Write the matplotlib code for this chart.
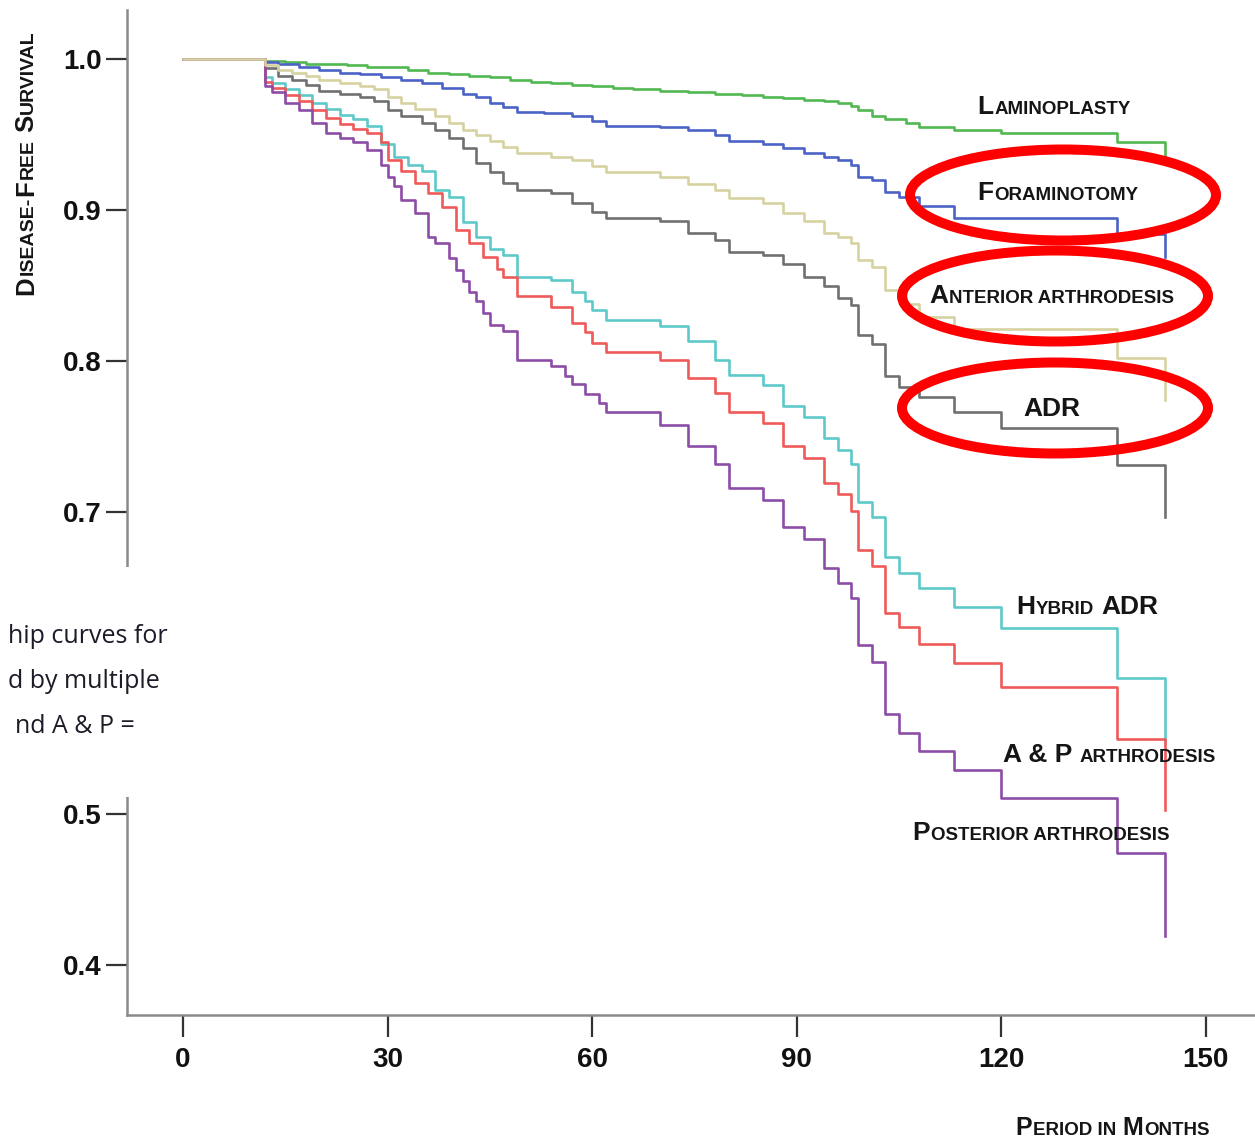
import matplotlib.pyplot as plt
from matplotlib.patches import Ellipse, Rectangle

# disease-free survival (months, survival), step after each event
lam_t = [0, 12, 15, 18, 21, 24, 27, 30, 33, 36, 39, 42, 45, 48, 51, 54, 57, 60, 63, 66,
         70, 74, 78, 82, 85, 88, 91, 94, 96, 98, 99, 101, 103, 106, 108, 113, 120, 137, 144]
lam_s = [1.0, 0.999, 0.998, 0.997, 0.997, 0.996, 0.995, 0.995, 0.993, 0.991, 0.990, 0.989,
         0.988, 0.986, 0.985, 0.984, 0.983, 0.982, 0.981, 0.980, 0.979, 0.978, 0.977, 0.976,
         0.975, 0.974, 0.973, 0.972, 0.971, 0.969, 0.966, 0.962, 0.960, 0.958, 0.955, 0.953,
         0.951, 0.945, 0.936]

for_t = [0, 12, 14, 17, 20, 23, 26, 29, 32, 35, 38, 41, 43, 45, 47, 49, 53, 57, 60, 62,
         70, 74, 78, 80, 85, 88, 91, 94, 96, 98, 99, 101, 103, 105, 108, 113, 137, 144]
for_s = [1.0, 0.998, 0.997, 0.995, 0.993, 0.991, 0.990, 0.988, 0.986, 0.984, 0.981, 0.977,
         0.975, 0.971, 0.968, 0.965, 0.964, 0.962, 0.959, 0.956, 0.955, 0.953, 0.950, 0.946,
         0.944, 0.941, 0.938, 0.935, 0.933, 0.930, 0.922, 0.920, 0.912, 0.909, 0.903, 0.895,
         0.884, 0.869]

ant_t = [0, 12, 14, 16, 18, 20, 23, 26, 28, 30, 32, 34, 37, 39, 41, 43, 45, 47, 49, 54,
         57, 60, 62, 70, 74, 78, 80, 85, 88, 91, 94, 96, 98, 99, 101, 103, 106, 108, 113, 137, 144]
ant_s = [1.0, 0.996, 0.993, 0.991, 0.989, 0.986, 0.984, 0.982, 0.980, 0.975, 0.971, 0.967,
         0.962, 0.958, 0.953, 0.950, 0.946, 0.942, 0.938, 0.935, 0.933, 0.929, 0.925, 0.922,
         0.917, 0.913, 0.908, 0.905, 0.898, 0.893, 0.885, 0.882, 0.878, 0.867, 0.862, 0.847,
         0.838, 0.829, 0.821, 0.802, 0.774]

adr_t = [0, 12, 14, 16, 18, 20, 23, 26, 28, 30, 32, 35, 37, 39, 41, 43, 45, 47, 49, 54,
         57, 60, 62, 70, 74, 78, 80, 85, 88, 91, 94, 96, 98, 99, 101, 103, 105, 108, 113, 120,
         137, 144]
adr_s = [1.0, 0.994, 0.989, 0.986, 0.983, 0.979, 0.977, 0.975, 0.972, 0.966, 0.962, 0.958,
         0.953, 0.948, 0.941, 0.931, 0.925, 0.918, 0.913, 0.911, 0.905, 0.899, 0.895, 0.893,
         0.885, 0.880, 0.872, 0.870, 0.864, 0.856, 0.850, 0.842, 0.837, 0.817, 0.811, 0.790,
         0.783, 0.776, 0.766, 0.756, 0.731, 0.697]

hyb_t = [0, 12, 13, 15, 17, 19, 21, 23, 25, 27, 29, 31, 33, 35, 37, 39, 41, 43, 45, 47,
         49, 54, 57, 59, 60, 62, 70, 74, 78, 80, 85, 88, 91, 94, 96, 98, 99, 101, 103, 105,
         108, 113, 120, 137, 144]
hyb_s = [1.0, 0.988, 0.984, 0.980, 0.976, 0.971, 0.967, 0.963, 0.960, 0.956, 0.944, 0.935,
         0.930, 0.926, 0.913, 0.909, 0.892, 0.882, 0.874, 0.870, 0.856, 0.854, 0.846, 0.840,
         0.834, 0.827, 0.823, 0.813, 0.801, 0.791, 0.784, 0.770, 0.763, 0.749, 0.741, 0.732,
         0.707, 0.697, 0.670, 0.660, 0.650, 0.637, 0.623, 0.590, 0.549]

ap_t = [0, 12, 13, 15, 17, 19, 21, 23, 25, 27, 29, 30, 32, 34, 36, 38, 40, 42, 44, 46,
        47, 49, 54, 57, 59, 60, 62, 70, 74, 78, 80, 85, 88, 91, 94, 96, 98, 99, 101, 103,
        105, 108, 113, 120, 137, 144]
ap_s = [1.0, 0.985, 0.981, 0.976, 0.972, 0.966, 0.961, 0.957, 0.954, 0.951, 0.945, 0.933,
        0.926, 0.918, 0.911, 0.902, 0.887, 0.878, 0.869, 0.861, 0.856, 0.843, 0.836, 0.825,
        0.819, 0.812, 0.806, 0.801, 0.789, 0.779, 0.766, 0.759, 0.744, 0.736, 0.719, 0.712,
        0.701, 0.675, 0.664, 0.633, 0.624, 0.613, 0.600, 0.584, 0.550, 0.503]

pos_t = [0, 12, 13, 15, 17, 19, 21, 23, 25, 27, 29, 30, 31, 32, 34, 36, 37, 39, 40, 41,
         42, 43, 44, 45, 47, 49, 54, 56, 57, 59, 61, 62, 70, 74, 78, 80, 85, 88, 91, 94,
         96, 98, 99, 101, 103, 105, 108, 113, 120, 137, 144]
pos_s = [1.0, 0.982, 0.978, 0.971, 0.966, 0.958, 0.951, 0.948, 0.945, 0.940, 0.930, 0.922,
         0.916, 0.907, 0.898, 0.882, 0.878, 0.868, 0.860, 0.853, 0.846, 0.840, 0.832, 0.824,
         0.820, 0.801, 0.797, 0.790, 0.785, 0.778, 0.772, 0.766, 0.758, 0.744, 0.732, 0.716,
         0.708, 0.690, 0.682, 0.663, 0.653, 0.643, 0.612, 0.601, 0.566, 0.554, 0.542, 0.529,
         0.511, 0.474, 0.419]

x_ticks = [0, 30, 60, 90, 120, 150]
# 0.6 sits under the caption patch in the picture
y_ticks = [0.4, 0.5, 0.7, 0.8, 0.9, 1.0]

W, H = 1255, 1138
plt.rcParams['font.family'] = ['Liberation Sans', 'DejaVu Sans']

fig = plt.figure(figsize=(W / 100, H / 100), dpi=100)
ax = fig.add_axes([127 / W, 123 / H, 1 - 127 / W, 1005 / H])

# beige last so it sits on top of the shared 0-12 month segment
curves = [
    (lam_t, lam_s, '#52b852'),
    (for_t, for_s, '#4b63c6'),
    (adr_t, adr_s, '#707070'),
    (hyb_t, hyb_s, '#5ec9c9'),
    (ap_t, ap_s, '#ef5a5a'),
    (pos_t, pos_s, '#8b4da6'),
    (ant_t, ant_s, '#d6d2a2'),
]
for t, s, c in curves:
    ax.step(t, s, where='post', color=c, lw=1.9)

ax.set_xlim(-8.2, 157.2)
ax.set_ylim(0.367, 1.0325)
ax.set_xticks(x_ticks)
ax.set_yticks(y_ticks)
ax.set_yticklabels(['%.1f' % v for v in y_ticks])
for side in ['top', 'right']:
    ax.spines[side].set_visible(False)
for side in ['left', 'bottom']:
    ax.spines[side].set_color('#8a8a8a')
    ax.spines[side].set_linewidth(1.8)
ax.tick_params(axis='y', length=15, width=1.6, color='#333333', pad=3, labelsize=20)
ax.tick_params(axis='x', length=16, width=1.6, color='#333333', pad=7, labelsize=20)
for lbl in ax.get_xticklabels() + ax.get_yticklabels():
    lbl.set_fontweight('bold')
    lbl.set_color('#111111')


def caps(parts, x, y, big=19, small=13.5, vertical=False):
    # fake small caps: chain pieces of text one after the other
    prev = None
    for txt, is_big, gap in parts:
        kw = dict(fontsize=big if is_big else small, fontweight='bold', color='#151515',
                  ha='left', va='baseline', annotation_clip=False, zorder=7)
        if vertical:
            kw.update(rotation=90, rotation_mode='anchor')
        if prev is None:
            a = ax.annotate(txt, xy=(x, H - y), xycoords='figure pixels', **kw)
        elif vertical:
            a = ax.annotate(txt, xy=(x, 1), xycoords=('figure pixels', prev),
                            xytext=(0, gap), textcoords='offset pixels', **kw)
        else:
            a = ax.annotate(txt, xy=(1, H - y), xycoords=(prev, 'figure pixels'),
                            xytext=(gap, 0), textcoords='offset pixels', **kw)
        prev = a


caps([('L', True, 0), ('AMINOPLASTY', False, 1)], 977, 114)
caps([('F', True, 0), ('ORAMINOTOMY', False, 1)], 977, 200)
caps([('A', True, 0), ('NTERIOR ARTHRODESIS', False, 1)], 929, 303)
caps([('ADR', True, 0)], 1023, 416)
caps([('H', True, 0), ('YBRID', False, 1), ('ADR', True, 7)], 1016, 614)
caps([('A & P', True, 0), ('ARTHRODESIS', False, 7)], 1003, 762)
caps([('P', True, 0), ('OSTERIOR ARTHRODESIS', False, 1)], 912, 840)
caps([('D', True, 0), ('ISEASE-', False, 1), ('F', True, 1), ('REE', False, 1),
      ('S', True, 7), ('URVIVAL', False, 1)], 33, 295, big=18.5, small=14, vertical=True)
caps([('P', True, 0), ('ERIOD IN', False, 1), ('M', True, 7), ('ONTHS', False, 1)],
     1015, 1135, big=18, small=13.5)

# red highlight rings
for cx, cy in [(1063, 195), (1055, 296), (1055, 408)]:
    fig.add_artist(Ellipse((cx / W, 1 - cy / H), 306 / W, 91 / H, transform=fig.transFigure,
                           fill=False, edgecolor='#ff0000', lw=7.2, zorder=8))

# caption text from the page overlapping the left edge
fig.add_artist(Rectangle((0, 1 - 797 / H), 250 / W, 230 / H, transform=fig.transFigure,
                         facecolor='white', edgecolor='none', zorder=5))
for txt, rx, by in [('hip curves for', 168, 643), ('d by multiple', 160, 688),
                    ('nd A & P =', 135, 733)]:
    fig.text(rx / W, 1 - by / H, txt, ha='right', va='baseline', fontsize=18,
             family=['Open Sans', 'DejaVu Sans'], color='#1c1c28', zorder=6)

fig.savefig('out.png', dpi=100)
